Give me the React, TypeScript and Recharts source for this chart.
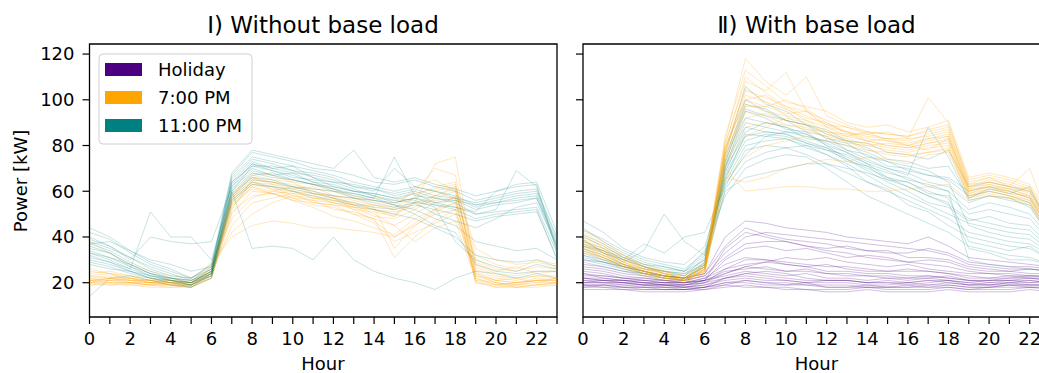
import React from 'react';
import { LineChart, Line, XAxis, YAxis, ReferenceArea } from 'recharts';

const hours = [0, 1, 2, 3, 4, 5, 6, 7, 8, 9, 10, 11, 12, 13, 14, 15, 16, 17, 18, 19, 20, 21, 22, 23];
const yTicks = [20, 40, 60, 80, 100, 120];
const yDomain = [5, 124.4];

// I) without base load, 7:00 PM
const leftEvening = [
    [21, 22, 20, 19, 20, 19, 24, 55, 63, 61, 60, 57, 57, 53, 52, 49, 55, 58, 61, 24, 20, 19, 21, 21],
    [20, 22, 21, 21, 19, 19, 23, 52, 65, 64, 61, 62, 58, 57, 54, 52, 55, 56, 57, 22, 19, 20, 21, 20],
    [22, 23, 22, 20, 21, 20, 25, 57, 67, 65, 64, 59, 58, 54, 53, 35, 45, 51, 55, 26, 22, 21, 23, 22],
    [19, 20, 20, 19, 18, 19, 22, 50, 60, 59, 56, 55, 54, 50, 48, 31, 40, 47, 52, 21, 18, 19, 19, 20],
    [24, 25, 23, 22, 21, 20, 26, 58, 68, 67, 64, 63, 61, 57, 56, 54, 60, 70, 67, 28, 24, 23, 25, 25],
    [23, 22, 21, 20, 19, 19, 24, 45, 55, 57, 59, 55, 54, 53, 49, 48, 52, 57, 60, 30, 26, 25, 27, 26],
    [21, 20, 20, 19, 19, 18, 23, 53, 62, 60, 59, 58, 55, 52, 51, 49, 58, 62, 64, 20, 19, 20, 22, 21],
    [20, 21, 21, 20, 19, 19, 27, 42, 50, 55, 58, 57, 56, 55, 52, 50, 55, 72, 75, 25, 21, 20, 21, 22],
    [22, 21, 20, 20, 20, 20, 24, 56, 64, 61, 57, 54, 53, 50, 46, 38, 42, 46, 50, 23, 20, 19, 20, 20],
    [25, 24, 22, 21, 20, 19, 25, 58, 66, 63, 62, 59, 57, 54, 54, 53, 57, 60, 62, 35, 30, 28, 29, 27],
    [20, 20, 19, 19, 19, 18, 22, 54, 62, 59, 56, 53, 49, 47, 44, 41, 48, 52, 55, 22, 19, 18, 19, 20],
    [38, 33, 28, 25, 23, 22, 28, 40, 45, 47, 46, 44, 44, 43, 42, 40, 45, 50, 52, 24, 21, 20, 21, 21],
    [21, 22, 22, 21, 21, 20, 25, 57, 64, 63, 60, 59, 58, 56, 54, 52, 62, 65, 60, 27, 23, 22, 23, 23],
    [19, 19, 19, 18, 18, 18, 22, 51, 58, 59, 57, 56, 52, 51, 48, 45, 50, 55, 57, 20, 18, 18, 18, 19],
    [23, 24, 21, 21, 20, 20, 29, 48, 57, 60, 62, 60, 57, 52, 47, 40, 46, 52, 58, 29, 25, 27, 24, 25],
    [20, 19, 20, 20, 21, 19, 24, 56, 63, 62, 58, 56, 55, 54, 50, 45, 38, 44, 47, 21, 20, 18, 19, 19],
    [26, 24, 23, 21, 22, 21, 26, 59, 66, 64, 63, 61, 60, 58, 57, 56, 59, 61, 63, 32, 28, 26, 30, 28],
    [21, 21, 22, 20, 20, 20, 25, 54, 61, 59, 60, 57, 55, 53, 52, 51, 53, 58, 62, 23, 21, 22, 20, 22],
];

// I) without base load, 11:00 PM
const leftNight = [
    [35, 33, 27, 24, 21, 20, 24, 62, 70, 67, 68, 64, 63, 60, 59, 57, 59, 55, 56, 52, 54, 55, 57, 35],
    [38, 35, 31, 26, 23, 22, 26, 65, 74, 72, 69, 68, 66, 62, 61, 58, 60, 57, 56, 54, 55, 57, 58, 38],
    [30, 28, 25, 22, 21, 19, 23, 58, 66, 65, 62, 61, 60, 57, 55, 53, 55, 54, 52, 48, 50, 51, 52, 30],
    [42, 39, 33, 28, 25, 22, 27, 67, 77, 75, 73, 70, 69, 67, 64, 63, 65, 62, 60, 56, 58, 60, 61, 40],
    [33, 30, 26, 51, 40, 40, 30, 60, 68, 66, 65, 63, 62, 60, 58, 55, 57, 54, 53, 50, 51, 52, 53, 33],
    [36, 33, 28, 24, 22, 20, 25, 63, 72, 70, 68, 67, 65, 62, 60, 70, 62, 60, 58, 54, 56, 58, 59, 36],
    [14, 22, 23, 21, 19, 18, 22, 55, 63, 62, 60, 58, 56, 54, 52, 50, 48, 44, 40, 32, 30, 29, 30, 27],
    [40, 36, 31, 27, 24, 21, 26, 66, 75, 73, 71, 69, 67, 64, 62, 60, 62, 60, 57, 53, 55, 56, 57, 37],
    [32, 29, 25, 22, 20, 18, 24, 60, 35, 36, 35, 30, 40, 30, 25, 22, 20, 17, 22, 25, 24, 22, 24, 22],
    [34, 31, 27, 23, 21, 19, 24, 61, 69, 67, 65, 63, 61, 58, 56, 54, 50, 45, 42, 28, 25, 24, 25, 25],
    [31, 29, 26, 23, 21, 20, 23, 57, 65, 64, 62, 60, 58, 57, 56, 55, 57, 55, 53, 51, 60, 62, 63, 34],
    [37, 34, 29, 25, 22, 20, 25, 64, 71, 69, 67, 64, 61, 59, 57, 54, 52, 48, 45, 38, 36, 34, 35, 30],
    [29, 27, 24, 22, 20, 19, 23, 56, 64, 62, 61, 59, 57, 55, 53, 52, 54, 52, 50, 47, 49, 50, 51, 31],
    [44, 40, 34, 29, 26, 22, 28, 68, 78, 76, 74, 72, 70, 78, 66, 64, 66, 63, 61, 58, 60, 63, 64, 42],
    [37, 38, 34, 30, 28, 25, 27, 64, 73, 70, 71, 66, 64, 63, 61, 59, 61, 58, 57, 55, 57, 59, 60, 39],
    [28, 26, 25, 23, 22, 21, 24, 59, 67, 68, 65, 63, 60, 59, 57, 75, 58, 57, 55, 50, 52, 69, 62, 33],
    [39, 36, 30, 40, 38, 37, 38, 62, 72, 69, 66, 65, 64, 61, 58, 56, 55, 50, 47, 44, 48, 53, 55, 36],
    [33, 31, 28, 24, 22, 21, 25, 60, 71, 71, 69, 66, 62, 60, 59, 57, 56, 53, 38, 30, 27, 25, 28, 26],
];

// II) with base load, holiday
const rightHoliday = [
    [20, 20, 19, 19, 18, 18, 18, 20, 21, 20, 19, 20, 18, 18, 19, 18, 18, 19, 19, 18, 18, 19, 19, 19],
    [22, 21, 21, 20, 20, 19, 20, 22, 23, 22, 21, 20, 21, 21, 20, 20, 19, 20, 21, 20, 19, 20, 21, 20],
    [25, 24, 22, 21, 20, 20, 21, 30, 35, 36, 34, 35, 33, 31, 32, 31, 29, 30, 29, 26, 25, 25, 24, 24],
    [18, 18, 17, 17, 17, 17, 17, 18, 19, 18, 18, 17, 17, 17, 18, 17, 17, 17, 18, 17, 17, 17, 18, 17],
    [28, 27, 25, 24, 23, 22, 24, 40, 47, 46, 44, 43, 42, 40, 39, 38, 37, 40, 36, 31, 30, 29, 28, 27],
    [21, 20, 20, 19, 19, 19, 20, 24, 27, 26, 25, 25, 24, 24, 23, 23, 22, 23, 22, 21, 21, 22, 22, 21],
    [23, 23, 22, 21, 21, 20, 22, 28, 31, 30, 29, 28, 27, 27, 26, 25, 25, 25, 24, 22, 22, 23, 23, 22],
    [19, 19, 18, 18, 18, 17, 18, 20, 20, 19, 19, 19, 18, 18, 18, 18, 18, 18, 18, 17, 18, 18, 18, 18],
    [26, 25, 23, 22, 21, 21, 23, 33, 40, 42, 41, 40, 39, 38, 37, 36, 35, 34, 32, 28, 27, 26, 26, 25],
    [20, 20, 20, 19, 19, 18, 19, 22, 24, 23, 22, 21, 21, 21, 20, 20, 20, 21, 21, 19, 20, 20, 20, 20],
    [24, 23, 22, 22, 21, 20, 22, 26, 28, 29, 28, 27, 28, 26, 25, 25, 26, 25, 24, 23, 22, 22, 23, 23],
    [17, 17, 17, 16, 16, 16, 17, 19, 18, 18, 17, 17, 16, 16, 17, 16, 16, 16, 17, 16, 16, 16, 17, 16],
    [22, 22, 21, 20, 20, 20, 21, 35, 42, 40, 38, 36, 34, 33, 31, 30, 29, 28, 27, 25, 24, 24, 23, 23],
    [19, 19, 19, 18, 18, 18, 19, 21, 22, 21, 21, 20, 20, 20, 19, 19, 20, 19, 20, 19, 19, 19, 19, 19],
    [21, 21, 20, 20, 19, 19, 21, 23, 25, 24, 23, 24, 22, 22, 21, 22, 21, 22, 21, 20, 21, 21, 20, 21],
    [18, 19, 18, 18, 17, 17, 18, 19, 21, 20, 20, 19, 19, 19, 18, 18, 19, 18, 19, 18, 18, 19, 18, 18],
    [27, 26, 24, 23, 22, 21, 23, 31, 37, 38, 38, 36, 35, 36, 34, 33, 33, 35, 33, 29, 28, 27, 27, 26],
    [20, 21, 20, 19, 19, 18, 20, 26, 30, 30, 28, 27, 25, 25, 24, 24, 23, 23, 22, 21, 20, 21, 21, 20],
    [24, 22, 21, 21, 20, 20, 21, 24, 27, 29, 31, 30, 31, 29, 28, 27, 28, 26, 25, 24, 24, 23, 22, 22],
    [19, 18, 18, 17, 17, 17, 18, 22, 24, 25, 24, 22, 21, 21, 20, 21, 20, 21, 20, 19, 19, 20, 19, 19],
    [30, 29, 27, 25, 23, 22, 24, 36, 44, 41, 39, 38, 37, 35, 34, 34, 31, 31, 30, 27, 26, 25, 26, 25],
    [22, 21, 21, 20, 19, 19, 21, 25, 26, 27, 25, 26, 24, 23, 23, 22, 22, 22, 23, 21, 21, 21, 22, 21],
];

// II) with base load, 7:00 PM
const rightEvening = [
    [38, 34, 29, 25, 23, 21, 26, 78, 105, 99, 96, 91, 88, 86, 82, 83, 80, 82, 84, 60, 63, 61, 58, 45],
    [42, 37, 31, 27, 24, 22, 27, 80, 110, 103, 97, 95, 89, 88, 85, 83, 82, 85, 87, 62, 65, 63, 60, 47],
    [35, 31, 27, 24, 22, 21, 25, 75, 98, 95, 93, 87, 86, 81, 80, 78, 77, 79, 80, 58, 61, 59, 56, 42],
    [37, 33, 28, 25, 23, 21, 26, 77, 102, 99, 93, 91, 86, 85, 82, 80, 79, 81, 82, 59, 62, 60, 57, 44],
    [34, 30, 26, 23, 21, 20, 24, 73, 95, 93, 89, 88, 83, 82, 78, 77, 76, 77, 79, 57, 60, 58, 55, 41],
    [40, 36, 31, 27, 24, 22, 28, 82, 118, 108, 102, 110, 93, 89, 86, 85, 84, 86, 88, 64, 66, 64, 61, 48],
    [36, 32, 28, 24, 22, 21, 25, 70, 60, 61, 62, 62, 61, 61, 60, 60, 61, 62, 63, 56, 58, 57, 55, 42],
    [39, 35, 30, 26, 24, 22, 27, 79, 100, 97, 100, 96, 90, 86, 84, 83, 83, 101, 90, 63, 64, 62, 70, 46],
    [35, 32, 28, 25, 23, 21, 26, 76, 92, 94, 91, 89, 86, 84, 82, 80, 79, 81, 83, 60, 62, 61, 58, 44],
    [43, 38, 32, 28, 25, 23, 29, 81, 108, 104, 112, 95, 91, 88, 86, 85, 84, 87, 89, 65, 67, 65, 62, 49],
    [34, 31, 27, 24, 22, 21, 25, 65, 75, 80, 82, 84, 82, 80, 78, 76, 75, 77, 78, 58, 60, 58, 56, 43],
    [38, 34, 29, 26, 23, 22, 27, 78, 104, 101, 97, 93, 89, 86, 83, 82, 81, 83, 85, 61, 64, 62, 59, 45],
    [36, 33, 28, 25, 23, 21, 26, 72, 88, 90, 89, 87, 84, 82, 81, 79, 78, 80, 81, 59, 61, 60, 57, 43],
    [41, 35, 32, 27, 25, 23, 28, 84, 113, 106, 99, 97, 95, 90, 88, 89, 86, 88, 91, 66, 68, 66, 63, 50],
    [33, 31, 28, 25, 22, 22, 25, 71, 84, 88, 92, 90, 85, 83, 80, 81, 80, 78, 83, 61, 62, 59, 58, 44],
    [37, 34, 29, 26, 24, 22, 27, 79, 100, 102, 96, 92, 90, 85, 85, 86, 83, 84, 86, 63, 66, 62, 61, 46],
    [39, 33, 30, 26, 25, 21, 26, 76, 97, 97, 94, 95, 88, 84, 86, 82, 80, 83, 84, 62, 63, 61, 60, 45],
    [35, 31, 27, 25, 23, 20, 24, 66, 64, 66, 70, 72, 74, 73, 75, 74, 72, 76, 77, 57, 59, 57, 54, 41],
];

// II) with base load, 11:00 PM
const rightNight = [
    [40, 36, 31, 27, 25, 24, 30, 70, 95, 92, 87, 86, 80, 77, 72, 69, 65, 63, 60, 52, 55, 53, 50, 40],
    [35, 32, 28, 25, 23, 22, 28, 72, 98, 96, 91, 89, 83, 81, 75, 73, 69, 67, 65, 58, 60, 58, 55, 42],
    [47, 42, 35, 31, 29, 28, 36, 65, 85, 84, 83, 79, 76, 71, 64, 61, 54, 51, 45, 40, 38, 36, 35, 30],
    [31, 29, 27, 25, 23, 22, 27, 68, 88, 86, 85, 81, 79, 73, 71, 65, 64, 59, 58, 50, 52, 50, 48, 38],
    [38, 35, 30, 37, 33, 40, 42, 62, 78, 80, 79, 76, 72, 68, 64, 60, 56, 52, 48, 42, 40, 38, 37, 32],
    [33, 30, 27, 24, 22, 21, 28, 76, 106, 98, 95, 89, 87, 82, 81, 77, 76, 74, 78, 62, 64, 62, 60, 45],
    [44, 38, 33, 29, 27, 25, 34, 58, 70, 74, 76, 75, 70, 64, 58, 54, 50, 46, 42, 36, 34, 32, 31, 28],
    [29, 27, 25, 23, 21, 20, 26, 70, 90, 88, 86, 84, 82, 78, 74, 70, 68, 64, 62, 55, 58, 56, 54, 40],
    [36, 33, 29, 34, 50, 38, 32, 66, 82, 85, 84, 81, 78, 74, 70, 66, 62, 58, 55, 35, 33, 30, 30, 28],
    [32, 29, 26, 24, 22, 21, 27, 73, 96, 93, 91, 86, 84, 78, 76, 71, 70, 67, 66, 60, 62, 60, 57, 43],
    [41, 37, 32, 28, 26, 25, 32, 64, 80, 82, 83, 80, 76, 72, 67, 62, 58, 54, 50, 46, 44, 42, 41, 34],
    [34, 31, 27, 25, 23, 22, 29, 69, 86, 90, 88, 85, 81, 77, 73, 70, 67, 88, 75, 56, 58, 57, 53, 40],
    [37, 34, 30, 27, 25, 23, 31, 67, 84, 86, 85, 82, 79, 75, 71, 68, 66, 62, 60, 30, 28, 27, 26, 25],
    [30, 28, 26, 24, 23, 22, 27, 60, 66, 68, 70, 72, 72, 70, 68, 65, 62, 58, 54, 48, 46, 44, 43, 35],
    [43, 39, 34, 30, 28, 26, 33, 74, 100, 95, 91, 89, 85, 82, 79, 74, 73, 70, 71, 57, 61, 59, 62, 44],
    [36, 34, 31, 28, 27, 25, 30, 63, 76, 84, 86, 85, 80, 74, 69, 64, 60, 55, 53, 47, 49, 46, 45, 36],
    [39, 33, 30, 27, 24, 23, 29, 71, 92, 90, 88, 83, 82, 80, 77, 73, 71, 69, 64, 45, 42, 40, 39, 33],
    [32, 30, 28, 26, 25, 24, 28, 61, 73, 77, 79, 80, 78, 76, 72, 66, 64, 60, 57, 38, 36, 34, 36, 30],
];

const HOLIDAY = '#4b0082';
const EVENING = '#ffa500';
const NIGHT = '#008080';
const FONT = 'DejaVu Sans';

const legendItems = [
    { label: 'Holiday', color: HOLIDAY },
    { label: '7:00 PM', color: EVENING },
    { label: '11:00 PM', color: NIGHT },
];

type Group = { key: string; lines: number[][]; color: string; opacity: number };

const buildRows = (groups: Group[]) =>
    hours.map((h, i) => {
        const row: Record<string, number> = { hour: h };
        groups.forEach((g) => g.lines.forEach((line, j) => { row[`${g.key}${j}`] = line[i]; }));
        return row;
    });

const tickStyle = { fill: '#000', fontSize: 18, fontFamily: FONT };

interface PanelProps {
    groups: Group[];
    width: number;
    marginLeft: number;
    marginRight: number;
    yAxisWidth: number;
    showYLabels: boolean;
}

const Panel = ({ groups, width, marginLeft, marginRight, yAxisWidth, showYLabels }: PanelProps) => {
    const rows = buildRows(groups);
    return (
        <LineChart width={width} height={373} data={rows} margin={{ top: 44, right: marginRight, left: marginLeft, bottom: 26 }}>
            <XAxis
                dataKey="hour"
                type="number"
                domain={[0, 23]}
                ticks={hours}
                interval={0}
                tickFormatter={(v: number) => (v % 2 === 0 ? String(v) : '')}
                tickSize={7}
                tickMargin={8}
                axisLine={false}
                tickLine={{ stroke: '#000', strokeWidth: 1.2 }}
                tick={tickStyle}
                height={30}
                allowDataOverflow
            />
            <YAxis
                type="number"
                domain={yDomain}
                ticks={yTicks}
                interval={0}
                tickFormatter={(v: number) => (showYLabels ? String(v) : '')}
                tickSize={7}
                tickMargin={8}
                axisLine={false}
                tickLine={{ stroke: '#000', strokeWidth: 1.2 }}
                tick={tickStyle}
                width={yAxisWidth}
                allowDataOverflow
            />
            {groups.map((g) =>
                g.lines.map((_, j) => (
                    <Line
                        key={`${g.key}${j}`}
                        dataKey={`${g.key}${j}`}
                        type="linear"
                        stroke={g.color}
                        strokeOpacity={g.opacity}
                        strokeWidth={1}
                        dot={false}
                        activeDot={false}
                        isAnimationActive={false}
                    />
                ))
            )}
            <ReferenceArea x1={0} x2={23} y1={yDomain[0]} y2={yDomain[1]} fill="none" stroke="#000" strokeWidth={1.3} ifOverflow="visible" />
        </LineChart>
    );
};

export default function App() {
    return (
        <div style={{ position: 'absolute', left: 0, top: 0, width: 1039, height: 373, background: '#fff', overflow: 'hidden', fontFamily: FONT }}>
            <div style={{ position: 'absolute', left: 0, top: 0 }}>
                <Panel
                    groups={[
                        { key: 'le', lines: leftEvening, color: EVENING, opacity: 0.25 },
                        { key: 'ln', lines: leftNight, color: NIGHT, opacity: 0.22 },
                    ]}
                    width={570}
                    marginLeft={29.5}
                    marginRight={13}
                    yAxisWidth={60}
                    showYLabels
                />
            </div>
            <div style={{ position: 'absolute', left: 560, top: 0, width: 479, height: 373, overflow: 'hidden' }}>
                <Panel
                    groups={[
                        { key: 'rh', lines: rightHoliday, color: HOLIDAY, opacity: 0.25 },
                        { key: 'rn', lines: rightNight, color: NIGHT, opacity: 0.22 },
                        { key: 're', lines: rightEvening, color: EVENING, opacity: 0.25 },
                    ]}
                    width={500}
                    marginLeft={3}
                    marginRight={10}
                    yAxisWidth={20}
                    showYLabels={false}
                />
            </div>
            <svg width={1039} height={373} style={{ position: 'absolute', left: 0, top: 0, pointerEvents: 'none' }} fontFamily={FONT}>
                <text x={323} y={33} textAnchor="middle" fontSize={23} fill="#000">Ⅰ) Without base load</text>
                <text x={816.5} y={33} textAnchor="middle" fontSize={23} fill="#000">Ⅱ) With base load</text>
                <text x={323} y={370} textAnchor="middle" fontSize={18} fill="#000">Hour</text>
                <text x={816.5} y={370} textAnchor="middle" fontSize={18} fill="#000">Hour</text>
                <text transform="translate(27,181) rotate(-90)" textAnchor="middle" fontSize={18} fill="#000">Power [kW]</text>
                <rect x={99} y={54} width={153} height={90} rx={4} fill="#fff" fillOpacity={0.8} stroke="#d0d0d0" strokeWidth={1} />
                {legendItems.map((item, i) => (
                    <g key={item.label}>
                        <rect x={105} y={63 + i * 28} width={37} height={13} fill={item.color} />
                        <text x={158} y={76 + i * 28} fontSize={18} fill="#000">{item.label}</text>
                    </g>
                ))}
            </svg>
        </div>
    );
}
